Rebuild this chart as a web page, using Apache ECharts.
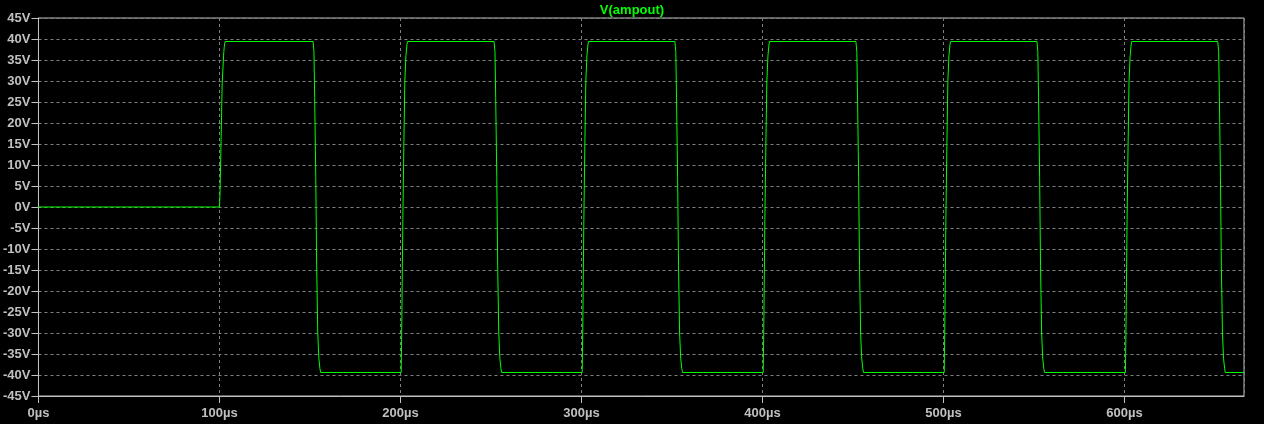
<!DOCTYPE html>
<html>
<head>
<meta charset="utf-8">
<script src="https://cdn.jsdelivr.net/npm/echarts@6/dist/echarts.min.js"></script>
<style>
html,body{margin:0;padding:0;background:#000;}
#c{width:1264px;height:424px;}
</style>
</head>
<body>
<div id="c"></div>
<script>
const seriesName = 'V(ampout)';
const xTickValues = [0, 100, 200, 300, 400, 500, 600];
const yTickValues = [-45, -40, -35, -30, -25, -20, -15, -10, -5, 0, 5, 10, 15, 20, 25, 30, 35, 40, 45];

const timeUs = [
  0, 100, 100.3, 100.9, 101.5, 102.4, 102.8, 103.2,
  151.7, 152.2, 152.6, 153.2, 153.7, 154.3, 154.9, 155.5, 155.9,
  200.4, 200.8, 201.3, 201.9, 202.4, 203.0, 203.6, 203.9,
  251.7, 252.2, 252.6, 253.2, 253.7, 254.3, 254.9, 255.5, 255.9,
  300.4, 300.8, 301.3, 301.9, 302.4, 303.0, 303.6, 303.9,
  351.6, 352.1, 352.5, 353.1, 353.6, 354.2, 354.8, 355.4, 355.8,
  400.4, 400.8, 401.3, 401.9, 402.4, 403.0, 403.6, 403.9,
  451.6, 452.1, 452.5, 453.1, 453.6, 454.2, 454.8, 455.4, 455.8,
  500.4, 500.8, 501.3, 501.9, 502.4, 503.0, 503.6, 503.9,
  551.6, 552.1, 552.5, 553.1, 553.6, 554.2, 554.8, 555.4, 555.8,
  600.5, 600.9, 601.4, 602.0, 602.5, 603.1, 603.7, 604.0,
  651.5, 652.0, 652.4, 653.0, 653.5, 654.1, 654.7, 655.3, 655.7,
  666
];
const voltageV = [
  0, 0, 3, 16, 29.5, 37, 38.8, 39.4,
  39.4, 37, 26, 7, -14, -30, -36, -38.5, -39.4,
  -39.4, -25, -3, 16, 30, 36, 38.8, 39.4,
  39.4, 37, 26, 7, -14, -30, -36, -38.5, -39.4,
  -39.4, -25, -3, 16, 30, 36, 38.8, 39.4,
  39.4, 37, 26, 7, -14, -30, -36, -38.5, -39.4,
  -39.4, -25, -3, 16, 30, 36, 38.8, 39.4,
  39.4, 37, 26, 7, -14, -30, -36, -38.5, -39.4,
  -39.4, -25, -3, 16, 30, 36, 38.8, 39.4,
  39.4, 37, 26, 7, -14, -30, -36, -38.5, -39.4,
  -39.4, -25, -3, 16, 30, 36, 38.8, 39.4,
  39.4, 37, 26, 7, -14, -30, -36, -38.5, -39.4,
  -39.4
];

const points = timeUs.map((t, i) => [t, voltageV[i]]);

const labelColor = '#c0c0c0';
const borderColor = '#c0c0c0';
const gridColor = '#808080';
const font = 'Liberation Sans';

const chart = echarts.init(document.getElementById('c'), null, {renderer: 'canvas'});
chart.setOption({
  animation: false,
  backgroundColor: '#000000',
  title: {
    text: seriesName,
    left: 'center',
    top: -1,
    textStyle: {color: '#00ff00', fontFamily: font, fontWeight: 'bold', fontSize: 13}
  },
  grid: {
    left: 36, right: 20, top: 18, bottom: 28,
    show: true, borderColor: borderColor, borderWidth: 1, backgroundColor: 'transparent'
  },
  xAxis: {
    type: 'value',
    min: xTickValues[0],
    max: 666,
    interval: 100,
    axisLine: {show: true, onZero: false, lineStyle: {color: borderColor, width: 1}},
    axisTick: {show: true, length: 7, inside: false, lineStyle: {color: borderColor}},
    splitLine: {show: true, lineStyle: {color: gridColor, type: [3, 3], width: 1}},
    axisLabel: {
      color: labelColor, fontFamily: font, fontWeight: 'bold', fontSize: 13, margin: 11,
      showMaxLabel: false,
      formatter: v => xTickValues.includes(v) ? v + 'µs' : ''
    }
  },
  yAxis: {
    type: 'value',
    min: yTickValues[0],
    max: yTickValues[yTickValues.length - 1],
    interval: 5,
    axisLine: {show: true, onZero: false, lineStyle: {color: borderColor, width: 1}},
    axisTick: {show: true, length: 7, inside: false, lineStyle: {color: borderColor}},
    splitLine: {show: true, lineStyle: {color: gridColor, type: [3, 3], width: 1}},
    axisLabel: {
      color: labelColor, fontFamily: font, fontWeight: 'bold', fontSize: 13, margin: 8,
      formatter: v => v + 'V'
    }
  },
  series: [{
    name: seriesName,
    type: 'line',
    data: points,
    showSymbol: false,
    symbol: 'none',
    lineStyle: {color: '#00ff00', width: 1},
    z: 5
  }]
});
</script>
</body>
</html>
